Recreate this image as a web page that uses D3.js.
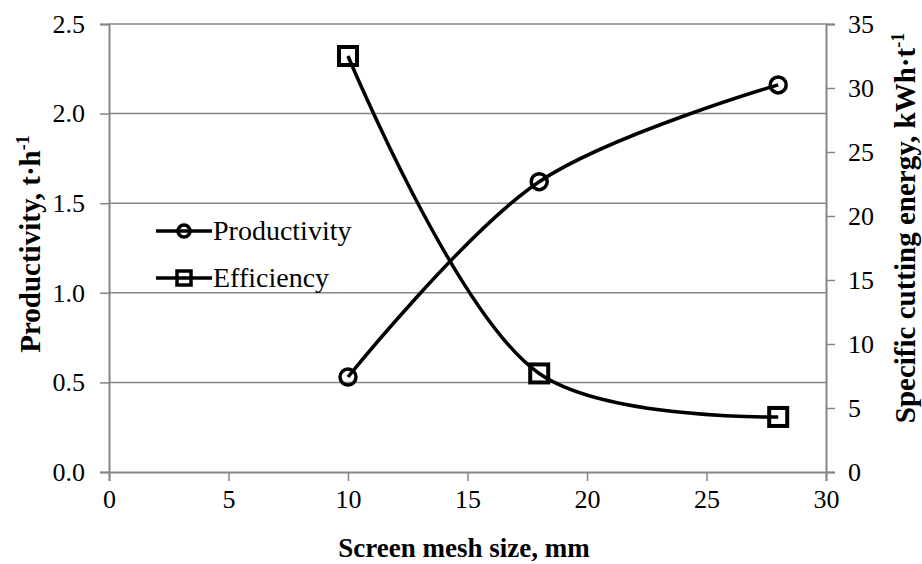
<!DOCTYPE html>
<html lang="en">
<head>
  <meta charset="UTF-8">
  <title>Productivity and specific cutting energy</title>
  <script src="https://cdn.jsdelivr.net/npm/d3@7"></script>
  <style>
    body { margin: 0; background: #fff; }
  </style>
</head>
<body>
<div id="chart"></div>
<script>
  // data
  const meshSize = [10, 18, 28];
  const productivity = [0.53, 1.62, 2.16];
  const efficiency = [32.5, 7.7, 4.3];
  const xTicks = [0, 5, 10, 15, 20, 25, 30];
  const leftTicks = [0, 0.5, 1.0, 1.5, 2.0, 2.5];
  const rightTicks = [0, 5, 10, 15, 20, 25, 30, 35];

  const W = 922, H = 564;
  const plotL = 109, plotR = 826, plotT = 24, plotB = 472;
  const axisGrey = '#868686';
  const serif = '"Liberation Serif", "Times New Roman", serif';

  const svg = d3.select('#chart').append('svg')
    .attr('width', W).attr('height', H)
    .style('font-family', serif);

  const x = d3.scaleLinear().domain([0, 30]).range([plotL, plotR]);
  const yL = d3.scaleLinear().domain([0, 2.5]).range([plotB, plotT]);
  const yR = d3.scaleLinear().domain([0, 35]).range([plotB, plotT]);

  // horizontal grid lines
  svg.append('g')
    .selectAll('line')
    .data(leftTicks.filter(d => d > 0))
    .join('line')
    .attr('x1', plotL).attr('x2', plotR)
    .attr('y1', d => yL(d)).attr('y2', d => yL(d))
    .attr('stroke', axisGrey).attr('stroke-width', 1.5);

  // axes
  const xAxis = svg.append('g')
    .attr('transform', `translate(0,${plotB})`)
    .call(d3.axisBottom(x).tickValues(xTicks).tickSize(9).tickPadding(9).tickFormat(d3.format('d')));
  const lAxis = svg.append('g')
    .attr('transform', `translate(${plotL},0)`)
    .call(d3.axisLeft(yL).tickValues(leftTicks).tickSize(9).tickPadding(15).tickFormat(d3.format('.1f')));
  const rAxis = svg.append('g')
    .attr('transform', `translate(${plotR},0)`)
    .call(d3.axisRight(yR).tickValues(rightTicks).tickSize(9).tickPadding(13).tickFormat(d3.format('d')));

  [xAxis, lAxis, rAxis].forEach(a => {
    a.attr('font-family', null).attr('font-size', null);
    a.select('.domain').attr('stroke', axisGrey).attr('stroke-width', 2);
    a.selectAll('.tick line').attr('stroke', axisGrey).attr('stroke-width', 1.5);
    a.selectAll('.tick text')
      .style('font-family', serif)
      .style('font-size', '26px').attr('fill', '#000');
  });

  // axis titles
  svg.append('text')
    .attr('x', 464).attr('y', 557)
    .attr('text-anchor', 'middle')
    .style('font-size', '27px').style('font-weight', 'bold')
    .text('Screen mesh size,  mm');

  const lt = svg.append('text')
    .attr('transform', `translate(40,244) rotate(-90)`)
    .attr('text-anchor', 'middle')
    .style('font-size', '29px').style('font-weight', 'bold');
  lt.append('tspan').text('Productivity, t·h');
  lt.append('tspan').attr('dy', -11).style('font-size', '18px').text('-1');

  const rt = svg.append('text')
    .attr('transform', `translate(915,228) rotate(-90)`)
    .attr('text-anchor', 'middle')
    .style('font-size', '29px').style('font-weight', 'bold');
  rt.append('tspan').text('Specific cutting energy, kWh·t');
  rt.append('tspan').attr('dy', -11).style('font-size', '18px').text('-1');

  // series
  const curve = d3.curveCatmullRom.alpha(0.5);
  const prodLine = d3.line().x((d, i) => x(meshSize[i])).y(d => yL(d)).curve(curve);
  const effLine = d3.line().x((d, i) => x(meshSize[i])).y(d => yR(d)).curve(curve);

  svg.append('path').attr('d', prodLine(productivity))
    .attr('fill', 'none').attr('stroke', '#000').attr('stroke-width', 3.5);
  svg.append('path').attr('d', effLine(efficiency))
    .attr('fill', 'none').attr('stroke', '#000').attr('stroke-width', 3.5);

  svg.append('g').selectAll('circle')
    .data(productivity)
    .join('circle')
    .attr('cx', (d, i) => x(meshSize[i])).attr('cy', d => yL(d))
    .attr('r', 8)
    .attr('fill', 'none').attr('stroke', '#000').attr('stroke-width', 3.5);

  svg.append('g').selectAll('rect')
    .data(efficiency)
    .join('rect')
    .attr('x', (d, i) => x(meshSize[i]) - 9).attr('y', d => yR(d) - 9)
    .attr('width', 18).attr('height', 18)
    .attr('fill', 'none').attr('stroke', '#000').attr('stroke-width', 4);

  // legend
  const legend = svg.append('g').attr('transform', 'translate(156,231)');
  const items = [{ name: 'Productivity', shape: 'circle' }, { name: 'Efficiency', shape: 'square' }];
  const row = legend.selectAll('g').data(items).join('g')
    .attr('transform', (d, i) => `translate(0,${i * 47})`);
  row.append('line').attr('x1', 0).attr('x2', 56).attr('y1', 0).attr('y2', 0)
    .attr('stroke', '#000').attr('stroke-width', 3.5);
  row.filter(d => d.shape === 'circle').append('circle')
    .attr('cx', 28).attr('cy', 0).attr('r', 6)
    .attr('fill', 'none').attr('stroke', '#000').attr('stroke-width', 3.5);
  row.filter(d => d.shape === 'square').append('rect')
    .attr('x', 21).attr('y', -7).attr('width', 14).attr('height', 14)
    .attr('fill', 'none').attr('stroke', '#000').attr('stroke-width', 3.5);
  row.append('text').attr('x', 57).attr('y', 9)
    .style('font-size', '28px').text(d => d.name);
</script>
</body>
</html>
